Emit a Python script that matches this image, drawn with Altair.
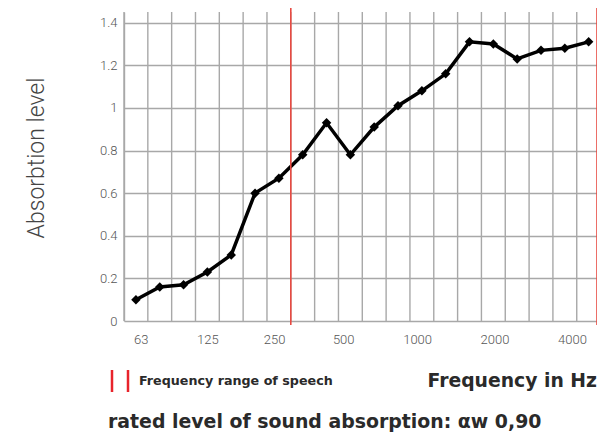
import altair as alt
import pandas as pd

freqs = ["63", "80", "100", "125", "160", "200", "250", "315", "400", "500",
         "630", "800", "1000", "1250", "1600", "2000", "2500", "3150", "4000", "5000"]
absorption = [0.10, 0.16, 0.17, 0.23, 0.31, 0.60, 0.67, 0.78, 0.93, 0.78,
              0.91, 1.01, 1.08, 1.16, 1.31, 1.30, 1.23, 1.27, 1.28, 1.31]
# positions of the printed frequency labels (in band-index units, as placed in the original)
tick_pos = [0.2, 3.0, 5.8, 8.7, 11.8, 15.05, 18.3]
y_ticks = [0, 0.2, 0.4, 0.6, 0.8, 1.0, 1.2, 1.4]
grid_bounds = [i - 0.5 for i in range(20)]
speech_bounds = [6.5, 19.35]

df = pd.DataFrame({"i": list(range(len(freqs))), "f": freqs, "a": absorption})
grid_df = pd.DataFrame({"i": grid_bounds})
speech_df = pd.DataFrame({"i": speech_bounds})
one = pd.DataFrame({"k": [0]})

W, H = 473, 309
XD = [-0.5, 19.35]
label_arr = "[" + ",".join("'%s'" % f for f in freqs) + "]"

xscale = alt.Scale(domain=XD, nice=False, zero=False)
yscale = alt.Scale(domain=[0, 1.45], nice=False)

xaxis = alt.Axis(values=tick_pos, labelExpr=label_arr + "[round(datum.value)]",
                 grid=False, ticks=False, domain=False, title=None,
                 labelFont="Roboto", labelFontWeight=300, labelFontSize=13,
                 labelColor="#555555", labelPadding=12)
X = alt.X("i:Q", scale=xscale, axis=xaxis)

grid = alt.Chart(grid_df).mark_rule(color="#a8a8a8", strokeWidth=1.4).encode(x=X)

line = alt.Chart(df).mark_line(
    color="black", strokeWidth=3.5,
    point=alt.OverlayMarkDef(shape="diamond", size=90, color="black", filled=True)
).encode(
    x=X,
    y=alt.Y("a:Q", scale=yscale,
            axis=alt.Axis(values=y_ticks, grid=True, gridColor="#a8a8a8", gridWidth=1.4,
                          domain=True, domainColor="#a8a8a8", domainWidth=1.4,
                          ticks=False, labelFont="Roboto", labelFontWeight=300,
                          labelFontSize=13, labelColor="#555555", labelPadding=7,
                          title=None, labelExpr="format(datum.value, '.1~f')")),
)

speech = alt.Chart(speech_df).mark_rule(color="#e84a42", strokeWidth=1.6).encode(
    x=X, y=alt.value(-9), y2=alt.value(313)
)

leg1 = alt.Chart(one).mark_rule(color="#e8232b", strokeWidth=2.5).encode(
    x=alt.value(-12), y=alt.value(358), y2=alt.value(380))
leg2 = alt.Chart(one).mark_rule(color="#e8232b", strokeWidth=2.5).encode(
    x=alt.value(4), y=alt.value(358), y2=alt.value(380))

leg_text = alt.Chart(one).mark_text(
    text="Frequency range of speech", align="left", baseline="middle",
    font="DejaVu Sans", fontWeight="bold", fontSize=12.7, color="#2a2a2a"
).encode(x=alt.value(15), y=alt.value(369))

xtitle = alt.Chart(one).mark_text(
    text="Frequency in Hz", align="right", baseline="middle",
    font="DejaVu Sans", fontWeight="bold", fontSize=18.8, color="#2a2a2a"
).encode(x=alt.value(473), y=alt.value(369))

rated = alt.Chart(one).mark_text(
    text="rated level of sound absorption: αw 0,90", align="left", baseline="middle",
    font="DejaVu Sans", fontWeight="bold", fontSize=18.9, color="#2a2a2a"
).encode(x=alt.value(-16), y=alt.value(410))

ytitle = alt.Chart(one).mark_text(
    text="Absorbtion level", align="center", baseline="middle", angle=270,
    font="Roboto", fontWeight=300, fontSize=23, color="#444444"
).encode(x=alt.value(-87), y=alt.value(146))

chart = alt.layer(
    grid, line, speech, leg1, leg2, leg_text, xtitle, rated, ytitle
).properties(
    width=W, height=H,
    autosize=alt.AutoSizeParams(type="none"),
    padding={"left": 116, "top": 4, "right": 0, "bottom": 116},
).configure_view(stroke=None)

chart.save("out.html", embed_options={"renderer": "svg", "actions": False})
